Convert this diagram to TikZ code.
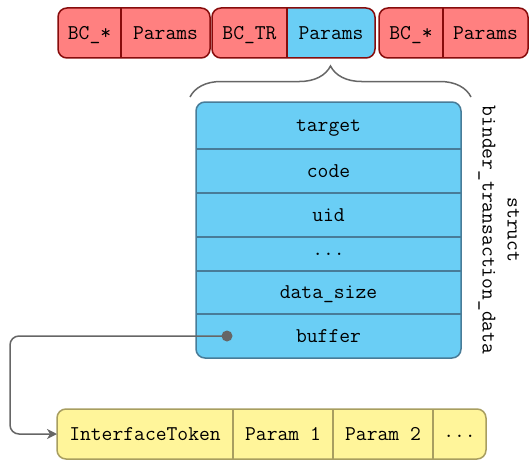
\documentclass[tikz,border=0pt]{standalone}
\usetikzlibrary{decorations.pathreplacing,arrows.meta}
\definecolor{redfill}{RGB}{255,128,128}
\definecolor{redline}{RGB}{135,12,12}
\definecolor{bluefill}{RGB}{106,206,245}
\definecolor{blueline}{RGB}{72,124,152}
\definecolor{yelfill}{RGB}{255,245,154}
\definecolor{yelline}{RGB}{168,158,96}
\definecolor{conn}{RGB}{102,102,102}
\tikzset{
  cell/.style={inner sep=0pt, outer sep=0pt, text height=12.5pt, text depth=0pt,
    font=\fontsize{21}{25}\selectfont\ttfamily},
  outline/.style={line width=1.5pt, rounded corners=9pt},
  divider/.style={line width=1.5pt},
}
\begin{document}
\begin{tikzpicture}[x=1pt,y=1pt]
\useasboundingbox (0,0) rectangle (530,-460);

% ---------- top row ----------
\node[cell, minimum width=63pt, minimum height=50pt] (bc1) at (89.5,-33) {};
\node[cell, minimum width=89pt, minimum height=50pt] (p1) at (165.5,-33) {};
\node[cell, minimum width=75pt, minimum height=50pt] (bc2) at (249.5,-33) {};
\node[cell, minimum width=88pt, minimum height=50pt] (p2) at (331,-33) {};
\node[cell, minimum width=64pt, minimum height=50pt] (bc3) at (411,-33) {};
\node[cell, minimum width=85pt, minimum height=50pt] (p3) at (485.5,-33) {};

\fill[redfill, outline] (bc1.north west) rectangle (p1.south east);
\fill[redfill, outline] (bc2.north west) rectangle (p2.south east);
\fill[redfill, outline] (bc3.north west) rectangle (p3.south east);
\begin{scope}
  \clip (p2.north west) rectangle ([xshift=5pt,yshift=-5pt]p2.south east);
  \fill[bluefill, outline] (bc2.north west) rectangle (p2.south east);
\end{scope}
\draw[redline, outline] (bc1.north west) rectangle (p1.south east);
\draw[redline, outline] (bc2.north west) rectangle (p2.south east);
\draw[redline, outline] (bc3.north west) rectangle (p3.south east);
\draw[redline, divider] (bc1.north east) -- (bc1.south east);
\draw[redline, divider] (bc2.north east) -- (bc2.south east);
\draw[redline, divider] (bc3.north east) -- (bc3.south east);
\node[cell] (t1) at (bc1) {BC\_*};
\node[cell] (t2) at (p1) {Params};
\node[cell] (t3) at (bc2) {BC\_TR};
\node[cell] (t4) at (p2) {Params};
\node[cell] (t5) at (bc3) {BC\_*};
\node[cell] (t6) at (p3) {Params};

% ---------- brace ----------
\coordinate (brL) at (190,-97);
\coordinate (brR) at (471,-97);
\draw[conn, line width=1.5pt, decorate, decoration={brace, amplitude=31pt}] (brL) -- (brR);

% ---------- struct ----------
\coordinate (sNW) at (196,-102);
\coordinate (sSE) at (461,-358);
\fill[bluefill, outline] (sNW) rectangle (sSE);
\node[cell, minimum width=265pt, minimum height=47pt] (target) at (328.5,-125.5) {target};
\node[cell, minimum width=265pt, minimum height=44pt] (code) at (328.5,-171) {code};
\node[cell, minimum width=265pt, minimum height=44pt] (uid) at (328.5,-215) {uid};
\node[cell, minimum width=265pt, minimum height=34pt, text height=2pt] (dots) at (328.5,-254) {...};
\node[cell, minimum width=265pt, minimum height=43pt] (dsize) at (328.5,-292.5) {data\_size};
\node[cell, minimum width=265pt, minimum height=44pt] (buffer) at (328.5,-336) {buffer};
\foreach \r in {target,code,uid,dots,dsize}
  \draw[blueline, divider] (\r.south west) -- (\r.south east);
\draw[blueline, outline] (sNW) rectangle (sSE);

\node[cell, text height=, rotate=-90, align=center] (lbl) at (501,-230)
  {struct\\binder\_transaction\_data};

% ---------- buffer ----------
\node[cell, minimum width=176pt, minimum height=50pt] (tok) at (145,-434) {};
\node[cell, minimum width=100pt, minimum height=50pt] (par1) at (283,-434) {};
\node[cell, minimum width=100pt, minimum height=50pt] (par2) at (383,-434) {};
\node[cell, minimum width=53pt, minimum height=50pt] (more) at (459.5,-434) {};
\fill[yelfill, outline] (tok.north west) rectangle (more.south east);
\draw[yelline, outline] (tok.north west) rectangle (more.south east);
\draw[yelline, divider] (tok.north east) -- (tok.south east);
\draw[yelline, divider] (par1.north east) -- (par1.south east);
\draw[yelline, divider] (par2.north east) -- (par2.south east);
\node[cell] (t7) at (tok) {InterfaceToken};
\node[cell] (t8) at (par1) {Param 1};
\node[cell] (t9) at (par2) {Param 2};
\node[cell, text height=2pt] (t10) at ([yshift=-2pt]more.center) {...};

% ---------- connector ----------
\coordinate (bufdot) at (227,-336);
\coordinate (bend) at (10,-336);
\draw[conn, line width=1.5pt, rounded corners=9pt, -{Stealth[length=10pt,width=10pt,inset=3pt]}]
  (bufdot) -- (bend) |- (tok.west);
\fill[conn] (bufdot) circle (5.5pt);
\end{tikzpicture}
\end{document}
